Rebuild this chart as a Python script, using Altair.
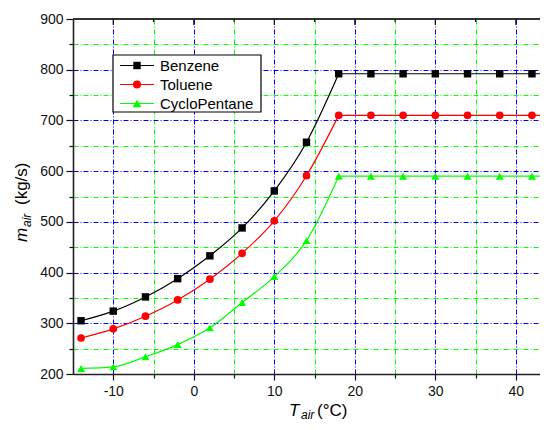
import altair as alt
import pandas as pd

# ---- data ----
t_air = [-14, -10, -6, -2, 2, 6, 10, 14, 18, 22, 26, 30, 34, 38, 42, 44]
benzene = [305, 324, 352, 388, 433, 488, 561, 657, 792, 792, 792, 792, 792, 792, 792, 792]
toluene = [271, 289, 314, 346, 387, 438, 502, 591, 710, 710, 710, 710, 710, 710, 710, 710]
cyclopentane = [211, 214, 234, 258, 291, 341, 392, 463, 590, 590, 590, 590, 590, 590, 590, 590]
knee = 18  # temperature where the curves turn flat

series = ["Benzene", "Toluene", "CycloPentane"]
colors = ["#000000", "#ff0000", "#00ff00"]
shapes = ["square", "circle", "triangle-up"]
marker_sizes = [55, 64, 78]

x_major = [-10, 0, 10, 20, 30, 40]
x_minor = [-5, 5, 15, 25, 35]
y_ticks = [200, 250, 300, 350, 400, 450, 500, 550, 600, 650, 700, 750, 800, 850, 900]

rows, seg_rows = [], []
for name, vals in zip(series, [benzene, toluene, cyclopentane]):
    for x, v in zip(t_air, vals):
        rows.append({"x": x, "y": v, "series": name})
        if x <= knee:
            seg_rows.append({"x": x, "y": v, "series": name, "seg": name + "-rise"})
        if x >= knee:
            seg_rows.append({"x": x, "y": v, "series": name, "seg": name + "-flat"})
df = pd.DataFrame(rows)
df_seg = pd.DataFrame(seg_rows)

FONT = "Liberation Sans"
W, H = 467, 355

xscale = alt.Scale(domain=[-15, 43], nice=False, zero=False)
yscale = alt.Scale(domain=[200, 900], nice=False, zero=False)

xaxis = alt.Axis(
    values=sorted(x_major + x_minor),
    labelExpr="datum.value % 10 == 0 ? replace(datum.label, '\u2212', '-') : ''",
    tickSize={"condition": {"test": "datum.value % 10 != 0", "value": 4}, "value": 6},
    gridColor={"condition": {"test": "datum.value % 10 != 0", "value": "#00ff00"}, "value": "#0000ff"},
    gridDash=[5, 2, 1, 2], gridWidth=1, gridOpacity=1, grid=True,
    domainColor="#222222", domainWidth=1.6, tickColor="#111111", tickWidth=1.2,
    labelFont=FONT, labelFontSize=14, labelColor="#111111", labelPadding=4,
    labelOverlap=False, labelFlush=False, title=None,
)
yaxis = alt.Axis(
    values=y_ticks,
    labelExpr="datum.value % 100 == 0 ? datum.label : ''",
    tickSize={"condition": {"test": "datum.value % 100 != 0", "value": 4}, "value": 7},
    gridColor={"condition": {"test": "datum.value % 100 != 0", "value": "#00ff00"}, "value": "#0000ff"},
    gridDash=[5, 2, 1, 2], gridWidth=1, gridOpacity=1, grid=True,
    domainColor="#222222", domainWidth=1.6, tickColor="#111111", tickWidth=1.2,
    labelFont=FONT, labelFontSize=14, labelColor="#111111", labelPadding=3,
    labelOverlap=False, labelFlush=False, title=None,
)

X = alt.X("x:Q", scale=xscale, axis=xaxis)
Y = alt.Y("y:Q", scale=yscale, axis=yaxis)

color = alt.Color("series:N", scale=alt.Scale(domain=series, range=colors), legend=None)
shape = alt.Shape("series:N", scale=alt.Scale(domain=series, range=shapes), legend=None)
size = alt.Size("series:N", scale=alt.Scale(domain=series, range=marker_sizes), legend=None)

lines = alt.Chart(df_seg).mark_line(interpolate="monotone", strokeWidth=1.2).encode(
    x=X, y=Y, color=color, detail="seg:N"
)
points = alt.Chart(df).mark_point(filled=True, opacity=1).encode(
    x=X, y=Y, color=color, shape=shape, size=size
)

one = pd.DataFrame({"a": [0]})
top_line = alt.Chart(one).mark_rule(color="#333333", strokeWidth=1.8).encode(
    x=alt.value(0), x2=alt.value(W), y=alt.value(0)
)
top_major = alt.Chart(pd.DataFrame({"x": x_major})).mark_rule(color="#111111", strokeWidth=1.2).encode(
    x=X, y=alt.value(0), y2=alt.value(6)
)
top_minor = alt.Chart(pd.DataFrame({"x": x_minor})).mark_rule(color="#111111", strokeWidth=1.2).encode(
    x=X, y=alt.value(0), y2=alt.value(3)
)

def txt(s, x, y, size, style="normal", angle=0, baseline="alphabetic"):
    kw = dict(text=s, font=FONT, fontSize=size, fontStyle=style, align="left",
              baseline=baseline, color="#000000")
    if angle:
        kw["angle"] = angle
    return alt.Chart(one).mark_text(**kw).encode(x=alt.value(x), y=alt.value(y))

titles = [
    txt("T", 216, 397, 17, "italic"),
    txt("air", 228, 400, 12, "italic"),
    txt("(°C)", 244, 397, 17),
    txt("m", -46, 223, 17, "italic", 270),
    txt("air", -42, 208, 12, "italic", 270),
    txt("(kg/s)", -46, 186, 17, "normal", 270),
]

# ---- legend (drawn by hand so each entry shows line + marker) ----
LX0, LX1, LY0, LY1 = 40, 188, 36, 93
row_y = [46.5, 65.5, 84.5]
legend_layers = [
    alt.Chart(one).mark_rect(fill="#ffffff", stroke="#000000", strokeWidth=1.2).encode(
        x=alt.value(LX0), x2=alt.value(LX1), y=alt.value(LY0), y2=alt.value(LY1)
    )
]
for name, c, s, ms, ry in zip(series, colors, shapes, marker_sizes, row_y):
    legend_layers.append(
        alt.Chart(one).mark_rule(color=c, strokeWidth=1.2).encode(
            x=alt.value(47), x2=alt.value(81), y=alt.value(ry)
        )
    )
    legend_layers.append(
        alt.Chart(one).mark_point(filled=True, opacity=1, size=ms, shape=s, color=c).encode(
            x=alt.value(64), y=alt.value(ry)
        )
    )
    legend_layers.append(txt(name, 87, ry, 15, baseline="middle"))

chart = alt.layer(lines, points, top_line, top_major, top_minor, *titles, *legend_layers).properties(
    width=W, height=H,
    autosize=alt.AutoSizeParams(type="none"),
    padding={"left": 65, "top": 11, "right": 0, "bottom": 48},
).configure_view(stroke="transparent")

chart.save("out.html", embed_options={"renderer": "svg", "actions": False})
